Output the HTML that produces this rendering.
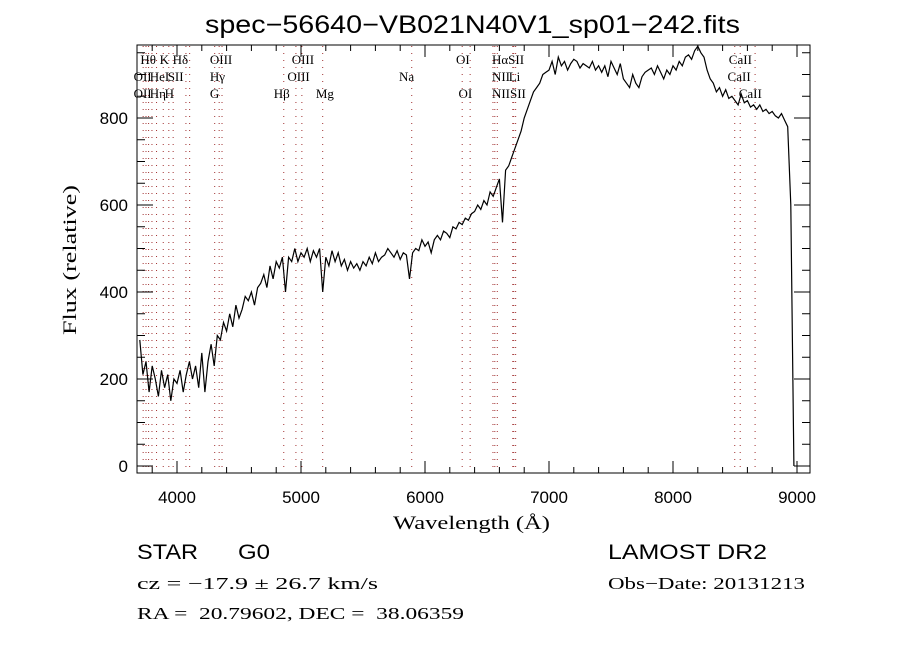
<!DOCTYPE html>
<html><head><meta charset="utf-8"><style>
body{margin:0;background:#fff}
svg text{font-family:"Liberation Serif",serif;fill:#000}
</style></head><body>
<svg id="chart" width="900" height="650" xmlns="http://www.w3.org/2000/svg">
<rect width="900" height="650" fill="#fff"/>
<text x="205" y="33" font-size="25" textLength="535" lengthAdjust="spacingAndGlyphs" style="font-family:'Liberation Sans',sans-serif">spec−56640−VB021N40V1_sp01−242.fits</text>
<g id="lines"></g>
<g id="axes"></g>
<polyline id="spec" fill="none" stroke="#000" stroke-width="1.2"/>
<rect x="137" y="45" width="673" height="428" fill="none" stroke="#000" stroke-width="1"/>
<text transform="translate(76,185) rotate(-90)" font-size="19" text-anchor="end" textLength="150" lengthAdjust="spacingAndGlyphs" x="-0">Flux (relative)</text>
<text x="393" y="529" font-size="19" textLength="157" lengthAdjust="spacingAndGlyphs">Wavelength (Å)</text>
<text x="137" y="559" font-size="21" textLength="61" lengthAdjust="spacingAndGlyphs" style="font-family:'Liberation Sans',sans-serif">STAR</text>
<text x="238" y="559" font-size="21" textLength="32" lengthAdjust="spacingAndGlyphs" style="font-family:'Liberation Sans',sans-serif">G0</text>
<text x="608" y="559" font-size="21" textLength="159" lengthAdjust="spacingAndGlyphs" style="font-family:'Liberation Sans',sans-serif">LAMOST DR2</text>
<text x="137" y="589" font-size="17" textLength="241" lengthAdjust="spacingAndGlyphs">cz = −17.9 ± 26.7 km/s</text>
<text x="608" y="589" font-size="17" textLength="197" lengthAdjust="spacingAndGlyphs">Obs−Date: 20131213</text>
<text x="137" y="619" font-size="17" textLength="327" lengthAdjust="spacingAndGlyphs" xml:space="preserve">RA =  20.79602, DEC =  38.06359</text>
</svg>
<script>
const xTicks=[4000,5000,6000,7000,8000,9000];
const yTicks=[0,200,400,600,800];
const fluxStart=3700, fluxStep=25;
const flux=[290,210,240,170,230,200,160,220,180,210,150,200,
190,220,170,210,240,200,230,180,260,170,240,280,
230,300,290,330,310,350,320,370,340,360,390,380,
400,370,410,420,440,410,460,430,470,455,480,400,
480,470,500,470,490,480,500,470,495,480,500,400,
480,460,495,470,490,460,475,450,470,455,465,450,
470,460,480,465,490,470,480,485,500,490,480,495,
475,490,485,430,490,500,495,520,505,515,490,520,
530,520,540,535,525,550,545,560,555,570,565,580,
585,600,590,610,600,630,620,640,660,560,680,690,
710,730,750,770,800,820,840,860,870,880,900,905,
910,930,900,940,920,930,910,925,935,930,915,925,
920,915,930,910,920,905,920,895,930,915,900,925,
890,880,870,900,880,870,895,905,910,915,900,920,
905,890,910,900,920,910,930,920,940,945,935,955,
965,950,940,910,890,880,860,870,850,865,845,850,
840,830,855,835,840,825,830,820,830,815,820,810,
815,805,800,810,795,780,600,0];
const lineWaves=[3727,3750,3771,3798,3835,3889,3934,3969,4072,4102,4304,4340,4363,4861,4959,5007,5175,5893,6300,6364,6548,6563,6583,6708,6716,6731,8498,8542,8662];
const labels=[["Hθ",3705,60],["K",3860,60],["Hδ",3965,60],["OIII",4265,60],["OIII",4925,60],["OI",6250,60],["HαSII",6540,60],["CaII",8450,60],
["OII",3650,77],["HeI",3780,77],["SII",3925,77],["Hγ",4265,77],["OIII",4890,77],["Na",5790,77],["NII",6540,77],["Li",6675,77],["CaII",8440,77],
["OII",3650,94],["Hη",3780,94],["H",3900,94],["G",4265,94],["Hβ",4780,94],["Mg",5120,94],["OI",6270,94],["NIISII",6540,94],["CaII",8530,94]];
const NS="http://www.w3.org/2000/svg";
const X=w=>177+(w-4000)*0.124, Y=f=>466-f*0.435;
function mk(t,p,a){const e=document.createElementNS(NS,t);for(const k in a)e.setAttribute(k,a[k]);p.appendChild(e);return e;}
const gl=document.getElementById('lines'), ga=document.getElementById('axes');
lineWaves.forEach(w=>{
 const l=mk('line',gl,{x1:X(w),x2:X(w),y1:46,y2:472,stroke:'#a03030','stroke-width':1,'stroke-dasharray':'1,6'});
 
 
});
labels.forEach(d=>{
 const t=mk('text',gl,{x:X(d[1]),y:d[2]+4,'font-size':13});
 t.textContent=d[0];
 
 
});
for(let w=3800;w<=9100;w+=200){const maj=w%1000===0;
 mk('line',ga,{x1:X(w),x2:X(w),y1:473,y2:maj?461:467,stroke:'#000'});
 mk('line',ga,{x1:X(w),x2:X(w),y1:45,y2:maj?57:51,stroke:'#000'});}
for(let f=0;f<=950;f+=50){const maj=f%200===0;
 mk('line',ga,{x1:137,x2:maj?153:145,y1:Y(f),y2:Y(f),stroke:'#000'});
 mk('line',ga,{x1:810,x2:maj?794:802,y1:Y(f),y2:Y(f),stroke:'#000'});}
xTicks.forEach(w=>{const t=mk('text',ga,{x:X(w),y:503,'font-size':17,'text-anchor':'middle',style:"font-family:'Liberation Sans',sans-serif"});t.textContent=w;
 
 });
yTicks.forEach(f=>{const t=mk('text',ga,{x:128,y:Y(f)+6,'font-size':17,'text-anchor':'end',style:"font-family:'Liberation Sans',sans-serif"});t.textContent=f;
 
 });
document.getElementById('spec').setAttribute('points',flux.map((f,i)=>X(fluxStart+i*fluxStep).toFixed(1)+','+Y(f).toFixed(1)).join(' '));
</script>
</body></html>
